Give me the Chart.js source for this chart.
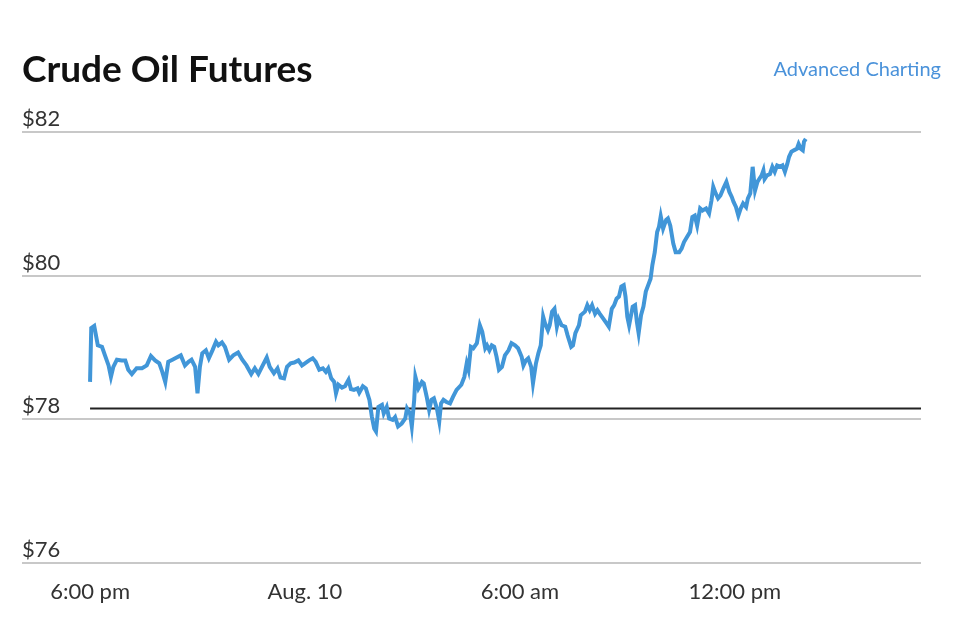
<!DOCTYPE html>
<html>
<head>
<meta charset="utf-8">
<title>Crude Oil Futures</title>
<script src="https://cdn.jsdelivr.net/npm/chart.js@4.4.0/dist/chart.umd.min.js"></script>
<style>
  html, body { margin: 0; padding: 0; background: #fff; }
  #wrap { position: relative; width: 964px; height: 628px; }
  #link { position: absolute; right: 23px; top: 56px; line-height: 24px; font: 20px Lato, sans-serif; color: #4a92da; text-decoration: none; }
</style>
</head>
<body>
<div id="wrap">
  <canvas id="chart" width="964" height="628"></canvas>
  <a id="link" href="#">Advanced Charting</a>
</div>
<script>
// minutes after 6:00 pm (Aug. 9 session open)
const times = [
  0, 2, 7, 13, 20, 25, 31, 35, 39, 45, 53, 59, 64, 70, 78, 87, 95, 102, 109, 116,
  121, 126, 131, 138, 145, 152, 159, 165, 170, 176, 180, 184, 188, 194, 199, 205, 211, 215, 221, 226,
  233, 240, 248, 255, 262, 270, 276, 282, 288, 296, 301,
  308, 314, 319, 325, 330, 336, 342, 349, 355, 360, 367, 373, 378, 384, 390, 395, 399, 404, 409, 412,
  416, 422, 427, 433, 437, 442, 448, 451, 457, 462, 468, 472, 476, 479, 483, 489, 492, 497, 501, 507,
  511, 516, 522, 528, 531, 536, 539, 543, 545, 550, 556, 559, 564, 568, 572, 576, 581, 585, 588, 592,
  597, 603, 608, 614,
  622, 627, 631, 634, 638, 642, 648, 653, 657, 662, 665, 669, 673, 677, 681, 685, 690, 695, 701, 706,
  712, 717, 723, 726, 730, 734, 739, 742, 747, 751, 755, 759, 762, 767, 770, 774, 778, 782, 785, 790,
  796, 800, 806, 809, 813, 819, 822, 829, 833, 837, 841, 846, 850, 854, 860, 865, 869, 874, 878, 882,
  886, 890, 894, 897, 900, 903,
  909, 913, 916, 919, 923, 927, 931, 935, 939, 942, 946, 950, 953, 956, 960, 965, 968, 972, 977, 981,
  987, 991, 995, 1000, 1005, 1009, 1013, 1017, 1022, 1026, 1032, 1037, 1041, 1044, 1048, 1052, 1056, 1061, 1066, 1071,
  1075, 1078, 1082, 1086, 1090, 1094, 1099, 1102, 1106, 1110, 1114, 1118, 1121, 1125, 1128, 1130, 1134, 1139, 1143, 1147,
  1151, 1156, 1160, 1164, 1168, 1171, 1175, 1179, 1184, 1187, 1191, 1194, 1196, 1199
];
const prices = [
  78.52, 79.27, 79.30, 79.03, 79.01, 78.89, 78.75, 78.59, 78.73, 78.83, 78.82, 78.82, 78.69, 78.63, 78.71, 78.71, 78.75, 78.88, 78.82, 78.78,
  78.66, 78.52, 78.80, 78.83, 78.86, 78.89, 78.75, 78.80, 78.83, 78.73, 78.36, 78.73, 78.92, 78.96, 78.85, 78.96, 79.08, 79.03, 79.07, 79.01,
  78.83, 78.89, 78.93, 78.83, 78.75, 78.63, 78.71, 78.63, 78.73, 78.86, 78.73,
  78.64, 78.71, 78.58, 78.57, 78.73, 78.78, 78.79, 78.82, 78.75, 78.78, 78.82, 78.85, 78.80, 78.69, 78.71, 78.66, 78.71, 78.57, 78.52, 78.36,
  78.48, 78.44, 78.46, 78.55, 78.42, 78.41, 78.43, 78.37, 78.46, 78.43, 78.27, 78.04, 77.87, 77.83, 78.17, 78.20, 78.08, 78.17, 78.01, 77.99,
  78.03, 77.90, 77.94, 78.01, 78.15, 78.08, 77.90, 78.27, 78.59, 78.43, 78.52, 78.50, 78.31, 78.13, 78.27, 78.29, 78.15, 77.97, 78.22, 78.27,
  78.24, 78.22, 78.31, 78.41,
  78.48, 78.59, 78.78, 78.69, 79.01, 78.99, 79.06, 79.31, 79.22, 78.99, 79.03, 78.96, 79.03, 79.01, 78.87, 78.69, 78.73, 78.89, 78.96, 79.06,
  79.03, 78.99, 78.87, 78.75, 78.82, 78.85, 78.73, 78.50, 78.78, 78.92, 79.03, 79.43, 79.34, 79.24, 79.31, 79.50, 79.54, 79.29, 79.40, 79.31,
  79.29, 79.17, 79.01, 79.03, 79.20, 79.31, 79.45, 79.50, 79.59, 79.52, 79.59, 79.47, 79.52, 79.47, 79.40, 79.34, 79.29, 79.54, 79.59, 79.68,
  79.71, 79.85, 79.87, 79.71, 79.43, 79.31,
  79.57, 79.59, 79.36, 79.20, 79.45, 79.57, 79.78, 79.87, 79.96, 80.15, 80.33, 80.61, 80.68, 80.83, 80.66, 80.78, 80.80, 80.70, 80.45, 80.33,
  80.33, 80.38, 80.47, 80.54, 80.61, 80.82, 80.84, 80.70, 80.94, 80.91, 80.94, 80.87, 81.05, 81.24, 81.15, 81.08, 81.12, 81.22, 81.31, 81.17,
  81.10, 81.03, 80.96, 80.84, 80.94, 81.01, 80.96, 81.08, 81.15, 81.52, 81.19, 81.31, 81.35, 81.40, 81.47, 81.35, 81.40, 81.42, 81.52, 81.45,
  81.54, 81.52, 81.54, 81.45, 81.56, 81.66, 81.73, 81.75, 81.77, 81.84, 81.77, 81.75, 81.87, 81.91
];
const prevClose = 78.15;
const tickValues = [0, 360, 720, 1080];
const tickLabels = ['6:00 pm', 'Aug. 10', '6:00 am', '12:00 pm'];
const axisStart = -114;
const axisEnd = 1392;

const lineBlue = '#4196d8';

function draw() {
  var ctx = document.getElementById('chart').getContext('2d');
  new Chart(ctx, {
    type: 'line',
    data: {
      datasets: [{
        label: 'Crude oil',
        data: times.map((t, i) => ({ x: t, y: prices[i] })),
        borderColor: lineBlue,
        borderWidth: 4,
        pointRadius: 0,
        tension: 0,
        order: 0
      }, {
        label: 'Prior close',
        data: [{ x: 0, y: prevClose }, { x: axisEnd, y: prevClose }],
        borderColor: '#222',
        borderWidth: 2,
        pointRadius: 0,
        order: 1
      }]
    },
    options: {
      responsive: false,
      animation: false,
      layout: { padding: { left: 22, right: 43, top: 40, bottom: 15 } },
      plugins: {
        legend: { display: false },
        tooltip: { enabled: false },
        title: {
          display: true,
          text: 'Crude Oil Futures',
          align: 'start',
          color: '#111',
          font: { family: 'Lato', size: 37, weight: 'bold', lineHeight: 1.2 },
          padding: { top: 8, bottom: 40 }
        }
      },
      scales: {
        x: {
          type: 'linear',
          min: axisStart,
          max: axisEnd,
          grid: { display: false },
          border: { display: false },
          afterBuildTicks: s => { s.ticks = tickValues.map(v => ({ value: v })); },
          ticks: {
            autoSkip: false,
            maxRotation: 0,
            padding: 8,
            color: '#333',
            font: { family: 'Lato', size: 22 },
            callback: v => tickLabels[tickValues.indexOf(v)]
          }
        },
        y: {
          min: 76,
          max: 82,
          grid: { color: '#c8c8c8', lineWidth: 2, drawTicks: false },
          border: { display: false },
          ticks: {
            stepSize: 2,
            mirror: true,
            padding: 0,
            labelOffset: -13,
            color: '#333',
            font: { family: 'Lato', size: 22 },
            callback: v => '$' + v
          }
        }
      }
    }
  });
}

Promise.all([
  document.fonts.load('22px Lato'),
  document.fonts.load('bold 37px Lato')
]).then(draw, draw);
</script>
</body>
</html>
